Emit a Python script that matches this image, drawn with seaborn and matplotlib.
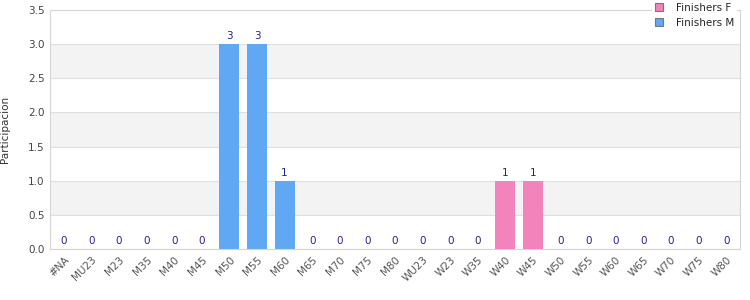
import matplotlib
matplotlib.use("Agg")
import matplotlib.pyplot as plt
import seaborn as sns
import pandas as pd
from matplotlib.patches import Patch

categories = ["#NA", "MU23", "M23", "M35", "M40", "M45", "M50", "M55", "M60", "M65",
              "M70", "M75", "M80", "WU23", "W23", "W35", "W40", "W45", "W50", "W55",
              "W60", "W65", "W70", "W75", "W80"]
values = [0, 0, 0, 0, 0, 0, 3, 3, 1, 0, 0, 0, 0, 0, 0, 0, 1, 1, 0, 0, 0, 0, 0, 0, 0]
series = ["Finishers M"] * 13 + ["Finishers F"] * 12
y_ticks = [0.0, 0.5, 1.0, 1.5, 2.0, 2.5, 3.0, 3.5]

df = pd.DataFrame({"cat": categories, "val": values, "serie": series})
palette = {"Finishers F": "#f283bb", "Finishers M": "#60a8f4"}

sns.set_style("white")
plt.rcParams["font.family"] = ["DejaVu Sans"]

fig = plt.figure(figsize=(7.5, 3), dpi=100)
ax = fig.add_axes([50 / 750, 1 - 249 / 300, 690 / 750, 239 / 300])

for i in range(len(y_ticks) - 1):
    if i % 2 == 1:
        ax.axhspan(y_ticks[i], y_ticks[i + 1], color="#f3f3f3", zorder=0, lw=0)
for t in y_ticks:
    ax.axhline(t, color="#e0e0e0", lw=0.8, zorder=0.5)

sns.barplot(data=df, x="cat", y="val", hue="serie", palette=palette, dodge=False,
            width=0.72, ax=ax, legend=False, zorder=2, saturation=1, linewidth=0,
            edgecolor="none")

for i, v in enumerate(values):
    ax.text(i, v + 0.04, f"{v}", ha="center", va="bottom", fontsize=7.5, color="#22229a")

ax.set_ylim(0, 3.5)
ax.set_xlim(-0.5, len(categories) - 0.5)
ax.set_yticks(y_ticks)
ax.set_yticklabels([f"{t:.1f}" for t in y_ticks], fontsize=7.5, color="#444444")
ax.set_xticks(range(len(categories)))
ax.set_xticklabels(categories, rotation=45, ha="right", rotation_mode="anchor",
                   fontsize=7.5, color="#555555")
ax.tick_params(axis="both", length=0, pad=4)
ax.set_xlabel("")
ax.set_ylabel("Participacion", fontsize=7.5, color="#333333", labelpad=13)

for s in ax.spines.values():
    s.set_color("#d6d6d6")
    s.set_linewidth(0.8)

handles = [Patch(facecolor=palette["Finishers F"], edgecolor="#777777", lw=0.8),
           Patch(facecolor=palette["Finishers M"], edgecolor="#777777", lw=0.8)]
leg = fig.legend(handles, ["Finishers F", "Finishers M"], loc="upper right",
                 bbox_to_anchor=(737 / 750, 1.0), fontsize=7.5, frameon=True,
                 fancybox=False, framealpha=1, edgecolor="none", facecolor="white",
                 handlelength=0.75, handleheight=0.75, handletextpad=1.3,
                 labelspacing=0.5, borderpad=0.25, borderaxespad=0)
leg.set_zorder(10)

fig.savefig("out.png", dpi=100)
